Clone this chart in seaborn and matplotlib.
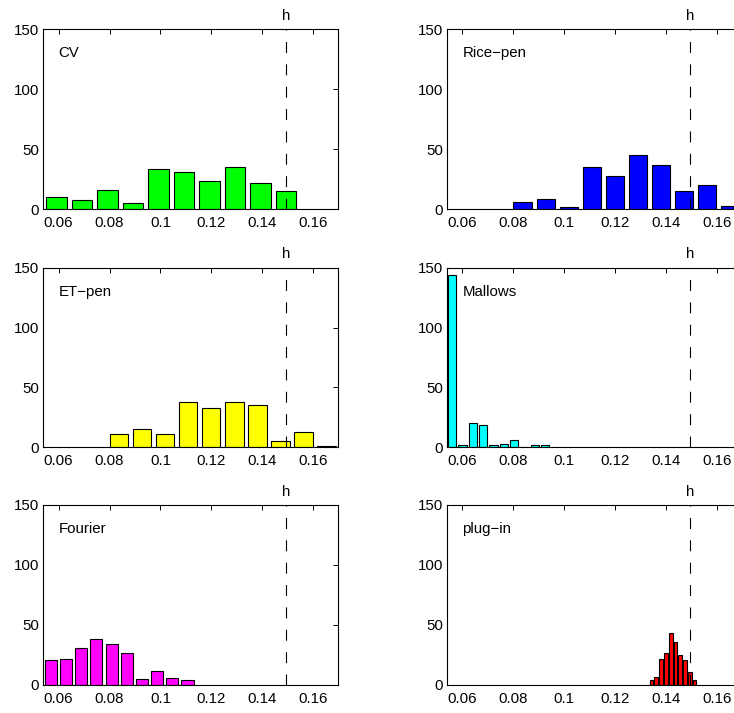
import numpy as np
import pandas as pd
import matplotlib
matplotlib.use("Agg")
import matplotlib.pyplot as plt
import matplotlib.transforms as mtransforms
import seaborn as sns

# ---- data ----
methods = ["CV", "Rice\u2212pen", "ET\u2212pen", "Mallows", "Fourier", "plug\u2212in"]
colors = ["#00ff00", "#0000ff", "#ffff00", "#00ffff", "#ff00ff", "#ff0000"]

cv_centers = [0.0592, 0.0692, 0.0792, 0.0892, 0.0992, 0.1092, 0.1192, 0.1292, 0.1392, 0.1492]
cv_counts = [10, 8, 16, 5, 34, 31, 24, 35, 22, 15]

rice_centers = [0.0837, 0.0928, 0.1018, 0.1109, 0.1199, 0.1290, 0.1381, 0.1471, 0.1562, 0.1652]
rice_counts = [6, 9, 2, 35, 28, 45, 37, 15, 20, 3]

et_centers = [0.0837, 0.0928, 0.1018, 0.1109, 0.1199, 0.1290, 0.1381, 0.1471, 0.1562, 0.1652]
et_counts = [11, 15, 11, 38, 33, 38, 35, 5, 13, 1]

mallows_centers = [0.0560, 0.0601, 0.0641, 0.0682, 0.0722, 0.0763, 0.0804, 0.0844, 0.0885, 0.0925]
mallows_counts = [144, 2, 20, 19, 2, 3, 6, 0, 2, 2]

fourier_centers = [0.0570, 0.0630, 0.0689, 0.0749, 0.0808, 0.0868, 0.0927, 0.0987, 0.1046, 0.1106]
fourier_counts = [21, 22, 31, 38, 34, 27, 5, 12, 6, 4]

plugin_centers = [0.1343, 0.1362, 0.1381, 0.1399, 0.1418, 0.1437, 0.1456, 0.1475, 0.1493, 0.1512]
plugin_counts = [4, 7, 22, 27, 43, 36, 25, 21, 11, 4]

h_true = 0.1493
x_ticks = [0.06, 0.08, 0.10, 0.12, 0.14, 0.16]
x_ticklabels = ["0.06", "0.08", "0.1", "0.12", "0.14", "0.16"]
y_ticks = [0, 50, 100, 150]

all_centers = [cv_centers, rice_centers, et_centers, mallows_centers, fourier_centers, plugin_centers]
all_counts = [cv_counts, rice_counts, et_counts, mallows_counts, fourier_counts, plugin_counts]

# ---- style ----
sns.set_style("white")
plt.rcParams["font.family"] = ["Liberation Sans", "DejaVu Sans"]
plt.rcParams["lines.scale_dashes"] = False
FS = 10.8

W, H = 734, 713
fig = plt.figure(figsize=(W / 100, H / 100), dpi=100)

col_left_px = [43.3, 447.0]
ax_w_px = 294.7
rows_px = [(29.3, 209.3), (267.7, 447.3), (505.0, 685.0)]

for i, (name, col, cen, cnt) in enumerate(zip(methods, colors, all_centers, all_counts)):
    r, c = divmod(i, 2)
    top, bot = rows_px[r]
    ax = fig.add_axes([col_left_px[c] / W, 1 - bot / H, ax_w_px / W, (bot - top) / H])
    df = pd.DataFrame({"h": cen, "n": cnt})
    cen_a = np.asarray(cen, dtype=float)
    step = float(np.diff(cen_a).mean())
    edges = [float(v) for v in np.r_[cen_a - step / 2, cen_a[-1] + step / 2]]
    sns.histplot(data=df, x="h", weights="n", bins=edges, shrink=0.8, color=col,
                 edgecolor="black", linewidth=0.8, alpha=1, ax=ax)
    ax.plot([h_true, h_true], [0, 150], color="black", lw=0.8,
            linestyle=(0, (7.9, 8.2)))
    ax.set_xlim(0.0540, 0.1697)
    ax.set_ylim(0, 150)
    ax.set_xticks(x_ticks)
    ax.set_xticklabels(x_ticklabels)
    ax.set_yticks(y_ticks)
    ax.set_xlabel("")
    ax.set_ylabel("")
    ax.tick_params(direction="in", top=True, right=True, length=3.5, width=0.7,
                   labelsize=FS, colors="black")
    ax.tick_params(axis="x", pad=5)
    ax.tick_params(axis="y", pad=3)
    for s in ax.spines.values():
        s.set_color("black")
        s.set_linewidth(0.8)
    ax.text(0.06, 130, name, ha="left", va="center", fontsize=FS, color="black")
    trans = mtransforms.blended_transform_factory(ax.transData, ax.transAxes)
    ax.text(h_true, 1.052, "h", transform=trans, ha="center", va="baseline",
            fontsize=FS, color="black")

fig.savefig("out.png", dpi=100)
